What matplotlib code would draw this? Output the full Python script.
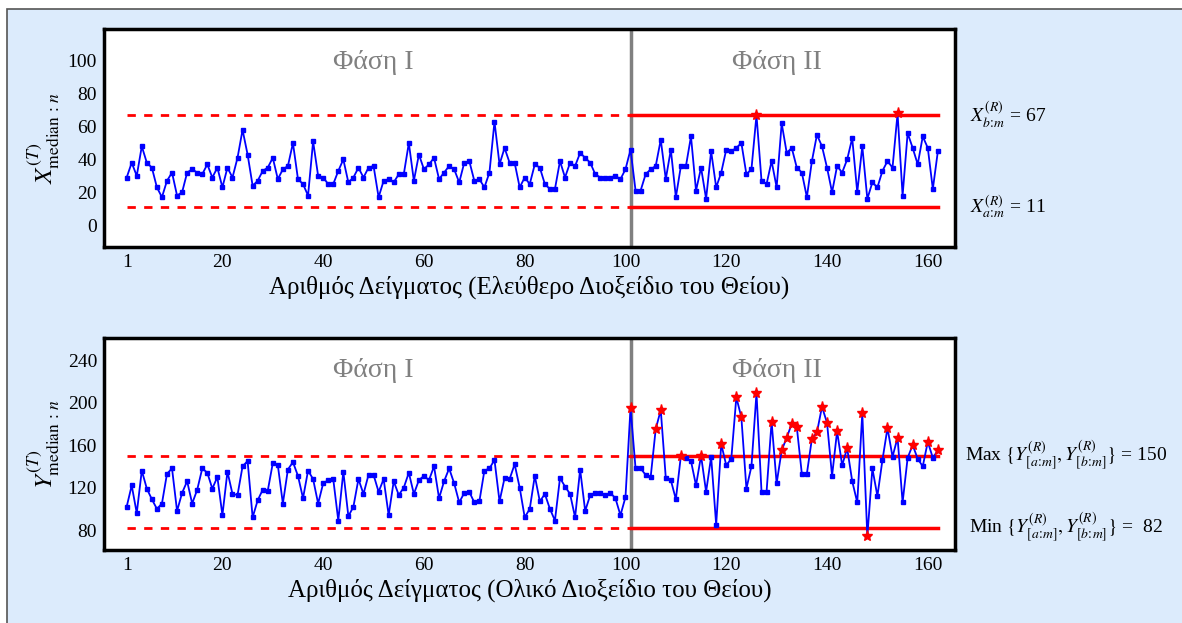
import numpy as np
import matplotlib
matplotlib.use("Agg")
import matplotlib.pyplot as plt
from matplotlib.patches import Rectangle

plt.rcParams['font.family'] = ['Liberation Serif', 'DejaVu Serif']
plt.rcParams['mathtext.fontset'] = 'stix'

# median of free SO2 (top) and total SO2 (bottom), samples 1..162
x_vals = [29, 38, 30, 48, 38, 35, 23, 17, 27, 32, 18, 20, 32, 34, 32, 31, 37, 29, 35, 23,
          35, 29, 41, 58, 43, 24, 27, 33, 35, 41, 28, 34, 36, 50, 28, 25, 18, 51, 30, 29,
          25, 25, 33, 40, 26, 29, 35, 29, 35, 36, 17, 27, 28, 26, 31, 31, 50, 27, 43, 34,
          37, 41, 28, 32, 36, 34, 26, 38, 39, 27, 28, 23, 32, 63, 37, 47, 38, 38, 23, 29,
          25, 37, 35, 25, 22, 22, 39, 29, 38, 36, 44, 41, 38, 31, 29, 29, 29, 30, 28, 34,
          46, 21, 21, 31, 34, 36, 52, 28, 46, 17, 36, 36, 54, 21, 35, 16, 45, 23, 32, 46,
          45, 47, 50, 31, 34, 67, 27, 25, 39, 23, 62, 44, 47, 35, 32, 17, 39, 55, 48, 35,
          20, 36, 32, 40, 53, 20, 48, 16, 26, 23, 33, 39, 35, 68, 18, 56, 47, 37, 54, 47,
          22, 45]
y_vals = [102, 122, 96, 136, 119, 109, 100, 105, 133, 138, 98, 115, 126, 105, 118, 138, 134, 119, 130, 94,
          135, 114, 113, 140, 145, 92, 108, 118, 117, 143, 141, 105, 137, 144, 131, 110, 136, 128, 105, 124,
          127, 128, 89, 135, 93, 102, 128, 114, 132, 132, 116, 128, 94, 126, 113, 120, 134, 114, 127, 131,
          127, 140, 110, 126, 138, 124, 106, 115, 116, 106, 107, 136, 138, 146, 107, 129, 128, 142, 120, 92,
          100, 131, 107, 114, 100, 89, 129, 121, 114, 92, 137, 98, 113, 115, 115, 113, 115, 110, 94, 111,
          195, 138, 138, 132, 130, 175, 193, 129, 127, 109, 150, 148, 145, 122, 150, 116, 149, 85, 161, 141,
          147, 205, 186, 119, 140, 209, 116, 116, 182, 124, 155, 167, 180, 177, 133, 133, 166, 172, 196, 181,
          131, 173, 141, 157, 126, 106, 190, 74, 138, 112, 146, 176, 149, 167, 106, 148, 160, 147, 140, 163,
          148, 155]

x_lcl, x_ucl = 11, 67
y_lcl, y_ucl = 82, 150
phase_split = 101
xticks = [1, 20, 40, 60, 80, 100, 120, 140, 160]

fig = plt.figure(figsize=(11.82, 6.23), dpi=100)
fig.patches.append(Rectangle((7 / 1182, -0.01), 1.0, 1 - 9 / 623 + 0.01, transform=fig.transFigure,
                             facecolor='#dcebfc', edgecolor='#555555', lw=1.2, zorder=-10))

ax1 = fig.add_axes([104 / 1182, 1 - 247 / 623, 851 / 1182, 218 / 623])
ax2 = fig.add_axes([104 / 1182, 1 - 550 / 623, 851 / 1182, 212 / 623])


def draw(ax, vals, lcl, ucl, ylim, yticks, phase_y, ylabel, xlabel):
    n = np.arange(1, len(vals) + 1)
    v = np.array(vals)
    ax.plot(n, v, '-s', color='blue', lw=1.3, ms=3.2, zorder=3)
    out = (n >= phase_split) & ((v >= ucl) | (v <= lcl))
    ax.plot(n[out], v[out], '*', color='red', ms=8, zorder=4)
    for lim in (lcl, ucl):
        ax.plot([1, phase_split], [lim, lim], '--', color='red', lw=2, dashes=(3, 3), zorder=2)
        ax.plot([phase_split, len(vals)], [lim, lim], '-', color='red', lw=2.5, zorder=2)
    ax.axvline(phase_split, color='gray', lw=2.5, zorder=1)
    ax.set_xlim(-3.5, 165.4)
    ax.set_ylim(*ylim)
    ax.set_xticks(xticks)
    ax.set_yticks(yticks)
    ax.tick_params(length=0, labelsize=14, pad=5)
    for s in ax.spines.values():
        s.set_linewidth(2.5)
    ax.text(50, phase_y, 'Φάση I', color='gray', fontsize=20, ha='center', va='center')
    ax.text(130, phase_y, 'Φάση II', color='gray', fontsize=20, ha='center', va='center')
    ax.set_ylabel(ylabel, fontsize=18, labelpad=4)
    ax.set_xlabel(xlabel, fontsize=18, labelpad=3)


draw(ax1, x_vals, x_lcl, x_ucl, (-13.3, 119.4), [0, 20, 40, 60, 80, 100], 99,
     r'$X^{(T)}_{\mathrm{median}\,:\,n}$', 'Αριθμός Δείγματος (Ελεύθερο Διοξείδιο του Θείου)')
draw(ax2, y_vals, y_lcl, y_ucl, (61.3, 260.7), [80, 120, 160, 200, 240], 230.6,
     r'$Y^{(T)}_{\mathrm{median}\,:\,n}$', 'Αριθμός Δείγματος (Ολικό Διοξείδιο του Θείου)')

fig.text(970 / 1182, 1 - 115 / 623, r'$X_{b\!:\!m}^{(R)}$ = %d' % x_ucl, fontsize=14, va='center')
fig.text(970 / 1182, 1 - 207 / 623, r'$X_{a\!:\!m}^{(R)}$ = %d' % x_lcl, fontsize=14, va='center')
fig.text(965 / 1182, 1 - 455 / 623,
         r'Max $\{Y^{(R)}_{[a\!:\!m]},Y^{(R)}_{[b\!:\!m]}\}$ = %d' % y_ucl, fontsize=14, va='center')
fig.text(969 / 1182, 1 - 527 / 623,
         r'Min $\{Y^{(R)}_{[a\!:\!m]},Y^{(R)}_{[b\!:\!m]}\}$ =  %d' % y_lcl, fontsize=14, va='center')

fig.savefig('out.png', dpi=100)
